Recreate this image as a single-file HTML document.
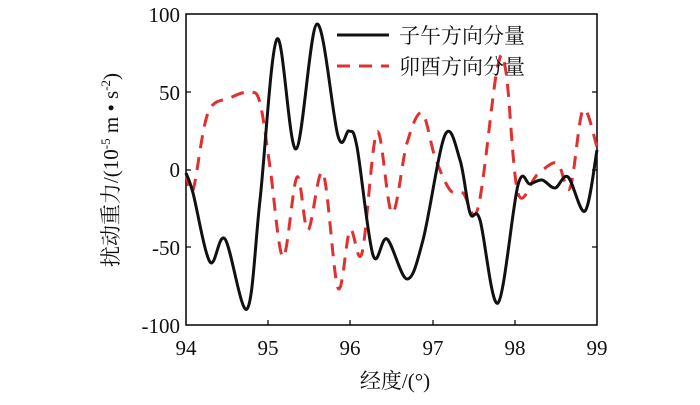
<!DOCTYPE html>
<html><head><meta charset="utf-8"><style>
body{margin:0;background:#fff}
svg text{font-family:"Liberation Serif","Noto Serif CJK SC",serif;fill:#111}
</style></head><body>
<svg id="s" width="700" height="400" xmlns="http://www.w3.org/2000/svg">
<rect x="186" y="14" width="411" height="311" fill="none" stroke="#000" stroke-width="1.5"/>
<g stroke="#000" stroke-width="1.2">
<line x1="268" y1="325" x2="268" y2="320"/><line x1="350" y1="325" x2="350" y2="320"/><line x1="433" y1="325" x2="433" y2="320"/><line x1="515" y1="325" x2="515" y2="320"/>
<line x1="186" y1="92" x2="191" y2="92"/><line x1="186" y1="170" x2="191" y2="170"/><line x1="186" y1="247" x2="191" y2="247"/>
<line x1="597" y1="92" x2="592" y2="92"/><line x1="597" y1="170" x2="592" y2="170"/><line x1="597" y1="247" x2="592" y2="247"/>
</g>
<g font-size="21" text-anchor="end">
<text x="180" y="22">100</text><text x="180" y="100">50</text><text x="180" y="177">0</text><text x="180" y="255">-50</text><text x="180" y="333">-100</text>
</g>
<g font-size="21" text-anchor="middle">
<text x="186" y="355">94</text><text x="268" y="355">95</text><text x="350" y="355">96</text><text x="433" y="355">97</text><text x="515" y="355">98</text><text x="597" y="355">99</text>
</g>
<text x="395" y="388" font-size="21" text-anchor="middle">经度/(°)</text>
<text transform="translate(118,170) rotate(-90)" font-size="21" text-anchor="middle">扰动重力/(10<tspan font-size="13" dy="-8">-5</tspan><tspan dy="8"> m • s</tspan><tspan font-size="13" dy="-8">-2</tspan><tspan dy="8">)</tspan></text>
<path id="r" fill="none" stroke="#e03030" stroke-width="3" stroke-dasharray="13,9"/>
<path id="b" fill="none" stroke="#111" stroke-width="3"/>
<line x1="337" y1="35" x2="389" y2="35" stroke="#111" stroke-width="3"/>
<line x1="337" y1="66" x2="389" y2="66" stroke="#e03030" stroke-width="3" stroke-dasharray="13,9"/>
<text x="399" y="43" font-size="21">子午方向分量</text>
<text x="399" y="74" font-size="21">卯酉方向分量</text>
</svg>
<script>
function cr(p){let d="M"+p[0][0]+","+p[0][1];for(let i=0;i<p.length-1;i++){const a=p[Math.max(i-1,0)],b=p[i],c=p[i+1],e=p[Math.min(i+2,p.length-1)];d+=" C"+(b[0]+(c[0]-a[0])/6)+","+(b[1]+(c[1]-a[1])/6)+" "+(c[0]-(e[0]-b[0])/6)+","+(c[1]-(e[1]-b[1])/6)+" "+c[0]+","+c[1];}return d;}
const B=[[186,173],[193,193],[210,262],[225,239],[247,309],[260,200],[277,39],[296,149],[317,24],[338,136],[349,131],[357,147],[373,255],[387,239],[407,279],[423,240],[445,135],[460,160],[470,213],[480,220],[498,303],[518,185],[530,184],[542,180],[555,188],[568,177],[585,211],[597,150]];
const R=[[186,173],[193,190],[208,113],[230,98],[250,92],[260,103],[270,167],[283,257],[297,177],[308,230],[323,173],[338,288],[350,230],[362,253],[377,132],[392,213],[407,143],[422,113],[435,157],[450,190],[463,193],[478,208],[497,70],[506,72],[518,193],[537,175],[557,163],[570,188],[583,110],[597,147]];
document.getElementById("b").setAttribute("d",cr(B));
document.getElementById("r").setAttribute("d",cr(R));
</script>
</body></html>
